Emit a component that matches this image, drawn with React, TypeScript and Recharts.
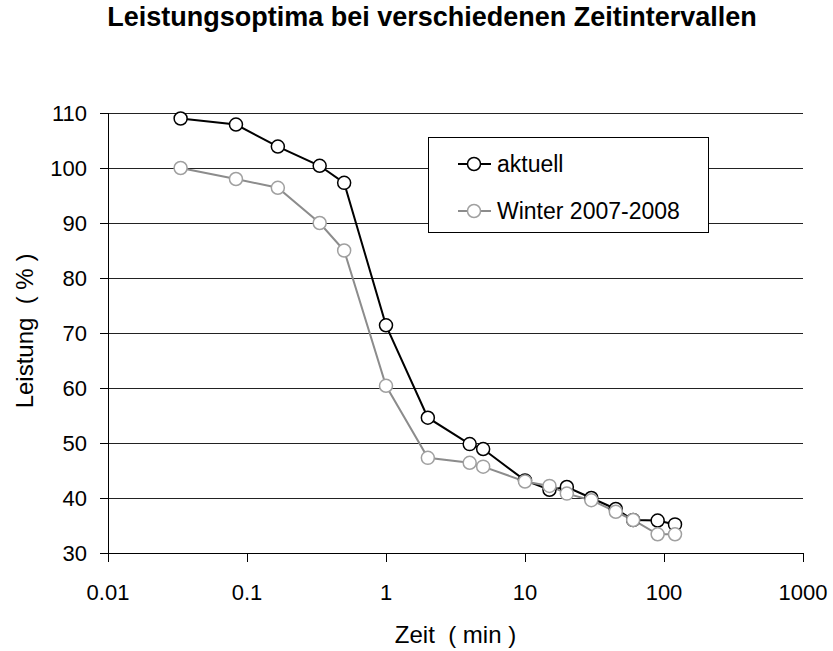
import React from 'react';
import { LineChart, Line, XAxis, YAxis, CartesianGrid, Legend } from 'recharts';

const FONT = '"Liberation Sans", Arial, sans-serif';

const seriesNames = ['aktuell', 'Winter 2007-2008'];
const seriesLine = ['#000000', '#8c8c8c'];
const seriesDot = ['#000000', '#a0a0a0'];

const aktuellTime = [0.0333, 0.0833, 0.1667, 0.3333, 0.5, 1, 2, 4, 5, 10, 15, 20, 30, 45, 60, 90, 120];
const aktuellValue = [109, 107.9, 103.9, 100.4, 97.3, 71.4, 54.6, 49.8, 48.9, 43.2, 41.5, 42.0, 40.0, 38.0, 36.0, 35.9, 35.2];

const winterTime = [0.0333, 0.0833, 0.1667, 0.3333, 0.5, 1, 2, 4, 5, 10, 15, 20, 30, 45, 60, 90, 120];
const winterValue = [100, 98, 96.4, 90, 85, 60.4, 47.3, 46.4, 45.7, 43.0, 42.2, 40.8, 39.6, 37.5, 36.0, 33.4, 33.4];

const xTicks = [0.01, 0.1, 1, 10, 100, 1000];
const yTicks = [30, 40, 50, 60, 70, 80, 90, 100, 110];

const aktuellData = aktuellTime.map((t, i) => ({ t, v: aktuellValue[i] }));
const winterData = winterTime.map((t, i) => ({ t, v: winterValue[i] }));

const renderLegend = () => (
  <div
    style={{
      width: 281,
      height: 96,
      border: '1px solid #000',
      background: '#fff',
      boxSizing: 'border-box',
      position: 'relative',
      fontFamily: FONT,
      fontSize: 23,
      color: '#000',
    }}
  >
    {seriesNames.map((name, i) => (
      <div
        key={name}
        style={{
          position: 'absolute',
          left: 29,
          top: 12 + i * 47,
          height: 28,
          display: 'flex',
          alignItems: 'center',
          whiteSpace: 'nowrap',
        }}
      >
        <svg width={33} height={16} style={{ display: 'block' }}>
          <line x1={0} y1={8} x2={33} y2={8} stroke={seriesLine[i]} strokeWidth={2} />
          <circle cx={16} cy={8} r={6.5} fill="#fff" stroke={seriesDot[i]} strokeWidth={1.5} />
        </svg>
        <span style={{ marginLeft: 6, lineHeight: '28px' }}>{name}</span>
      </div>
    ))}
  </div>
);

const YLabel = (props: any) => {
  const vb = props.viewBox || {};
  const cx = 33;
  const cy = vb.y + vb.height / 2 - 2;
  return (
    <text
      x={cx}
      y={cy}
      transform={`rotate(-90 ${cx} ${cy})`}
      textAnchor="middle"
      fontFamily={FONT}
      fontSize={24}
      fill="#000"
    >
      {'Leistung\u00A0\u00A0(\u00A0%\u00A0)'}
    </text>
  );
};

const XLabel = (props: any) => {
  const vb = props.viewBox || {};
  const cx = vb.x + vb.width / 2;
  return (
    <text x={cx} y={643} textAnchor="middle" fontFamily={FONT} fontSize={24} fill="#000">
      {'Zeit\u00A0\u00A0(\u00A0min\u00A0)'}
    </text>
  );
};

export default function App() {
  return (
    <div style={{ position: 'absolute', left: 0, top: 0, width: 833, height: 651, background: '#fff' }}>
      <style>{`
        .recharts-cartesian-grid line,
        .recharts-cartesian-axis-line,
        .recharts-cartesian-axis-tick-line { shape-rendering: crispEdges; }
      `}</style>
      <div
        style={{
          position: 'absolute',
          left: 31,
          top: 4,
          width: 802,
          textAlign: 'center',
          fontFamily: FONT,
          fontWeight: 'bold',
          fontSize: 27,
          lineHeight: '27px',
          color: '#000',
          whiteSpace: 'nowrap',
        }}
      >
        Leistungsoptima bei verschiedenen Zeitintervallen
      </div>
      <LineChart
        width={833}
        height={651}
        margin={{ top: 113, right: 30, bottom: 0, left: 0 }}
        style={{ position: 'absolute', left: 0, top: 0 }}
      >
        <CartesianGrid horizontal vertical={false} stroke="#222" strokeWidth={1} />
        <XAxis
          dataKey="t"
          type="number"
          scale="log"
          domain={[0.01, 1000]}
          ticks={xTicks}
          allowDataOverflow
          height={98}
          tickSize={9}
          tickMargin={22}
          stroke="#000"
          tickLine={{ stroke: '#000' }}
          axisLine={{ stroke: '#000' }}
          tick={{ fill: '#000', fontSize: 22, fontFamily: FONT }}
          tickFormatter={(v: number) => String(v)}
          label={<XLabel />}
        />
        <YAxis
          type="number"
          domain={[30, 110]}
          ticks={yTicks}
          width={108}
          tickSize={8}
          tickMargin={13}
          stroke="#000"
          tickLine={{ stroke: '#000' }}
          axisLine={{ stroke: '#000' }}
          tick={{ fill: '#000', fontSize: 22, fontFamily: FONT }}
          label={<YLabel />}
        />
        <Legend
          layout="vertical"
          align="center"
          verticalAlign="middle"
          content={renderLegend}
          wrapperStyle={{ left: 428, top: 137, width: 281, height: 96 }}
        />
        <Line
          data={aktuellData}
          dataKey="v"
          name={seriesNames[0]}
          stroke={seriesLine[0]}
          strokeWidth={2}
          dot={{ r: 6.5, fill: '#fff', stroke: seriesDot[0], strokeWidth: 1.5 }}
          activeDot={false}
          isAnimationActive={false}
        />
        <Line
          data={winterData}
          dataKey="v"
          name={seriesNames[1]}
          stroke={seriesLine[1]}
          strokeWidth={2}
          dot={{ r: 6.5, fill: '#fff', stroke: seriesDot[1], strokeWidth: 1.5 }}
          activeDot={false}
          isAnimationActive={false}
        />
      </LineChart>
    </div>
  );
}
